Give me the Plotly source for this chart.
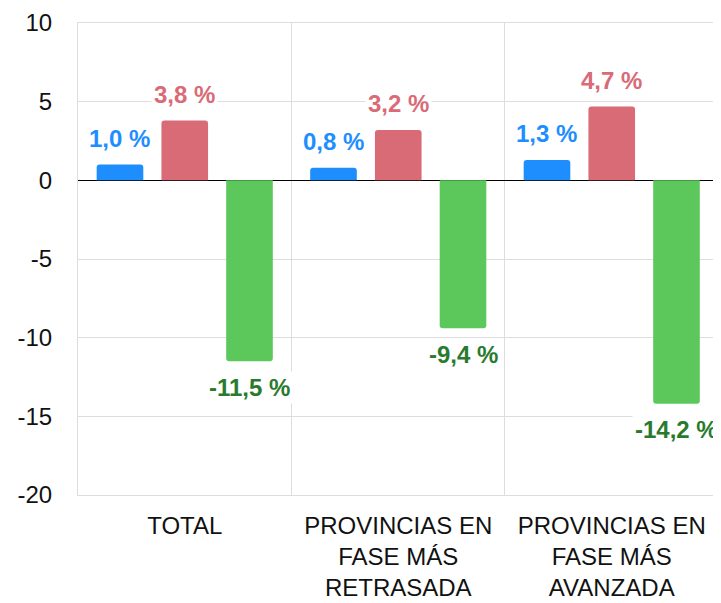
import plotly.graph_objects as go

categories = ["TOTAL", "PROVINCIAS EN<br>FASE MÁS<br>RETRASADA", "PROVINCIAS EN<br>FASE MÁS<br>AVANZADA"]
serie_azul = [1.0, 0.8, 1.3]
serie_roja = [3.8, 3.2, 4.7]
serie_verde = [-11.5, -9.4, -14.2]
y_ticks = [10, 5, 0, -5, -10, -15, -20]
y_tick_labels = ["10", "5", "0", "-5", "-10", "-15", "-20"]

series = [
    (serie_azul, "#1E8EFF", "#1E8EFF"),
    (serie_roja, "#D96B77", "#D96B77"),
    (serie_verde, "#5CC85C", "#2A7A2E"),
]

BARGAP = 0.09
fig = go.Figure()
for vals, col, _ in series:
    fig.add_trace(go.Bar(x=categories, y=vals, marker=dict(color=col, cornerradius=3, line=dict(width=0)),
                         showlegend=False, hoverinfo="skip"))

slot = (1 - BARGAP) / 3
annotations = []
for j, (vals, _, tcol) in enumerate(series):
    for i, v in enumerate(vals):
        txt = f"{v:.1f}".replace(".", ",") + " %"
        annotations.append(dict(
            x=i + (j - 1) * slot, y=v, xref="x", yref="y",
            text=txt, showarrow=False, yshift=26 if v >= 0 else -26,
            font=dict(family="Liberation Sans", size=24, color=tcol, weight="bold"),
            bgcolor="white", borderpad=2,
        ))

fig.update_layout(
    width=721, height=603,
    margin=dict(l=70, r=8, t=15, b=116, autoexpand=False),
    plot_bgcolor="white", paper_bgcolor="white",
    barmode="group", bargap=BARGAP, bargroupgap=0.28,
    annotations=annotations,
)
fig.update_xaxes(
    type="category", tickson="boundaries", showgrid=True, gridcolor="#DDDDDD", gridwidth=1,
    ticks="", showline=True, linecolor="#DDDDDD", linewidth=1, mirror=True,
    automargin=False, ticklabelstandoff=9,
    tickfont=dict(family="Liberation Sans", size=24, color="#111111"),
)
fig.update_yaxes(
    range=[-20, 10], tickvals=y_ticks, ticktext=y_tick_labels, showgrid=True, gridcolor="#DDDDDD", gridwidth=1,
    zeroline=True, zerolinecolor="black", zerolinewidth=1, ticks="",
    showline=True, linecolor="#DDDDDD", linewidth=1,
    automargin=False, ticklabelstandoff=20,
    tickfont=dict(family="Liberation Sans", size=24, color="#111111"),
)
fig.write_html("out.html")
